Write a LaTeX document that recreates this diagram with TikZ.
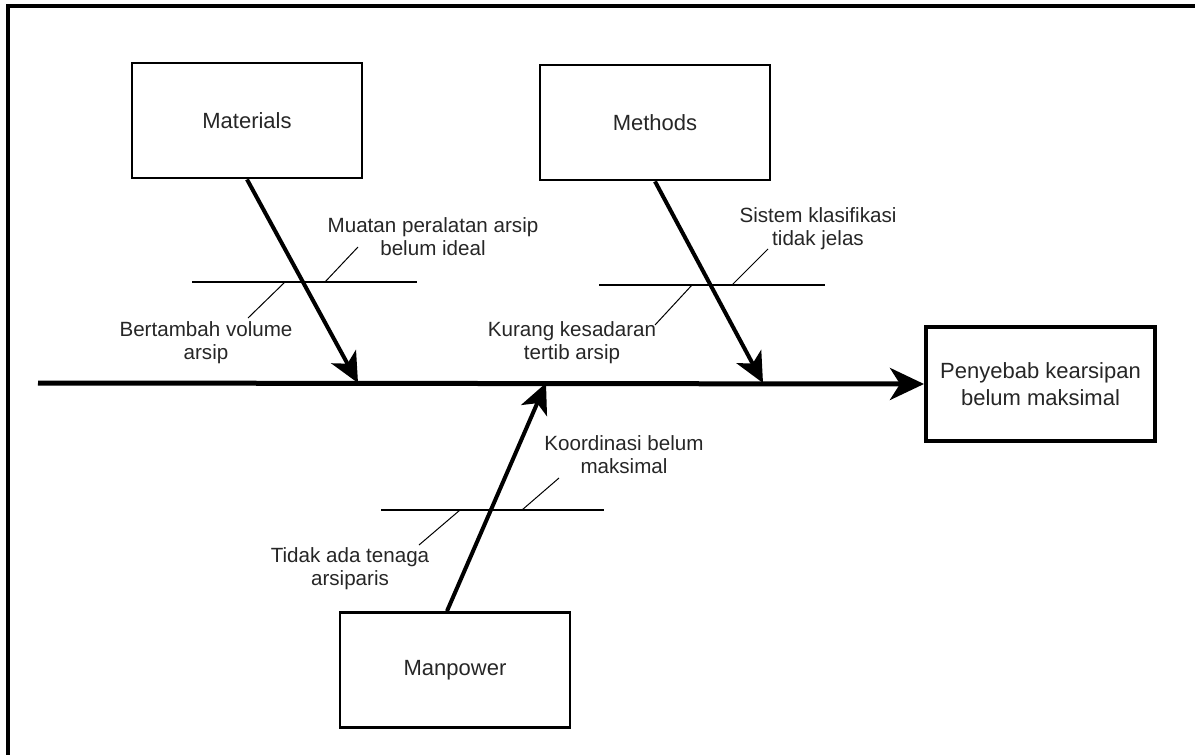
\documentclass[tikz,border=0pt]{standalone}
\usepackage{fontspec}
\setmainfont{Liberation Sans}
\usetikzlibrary{arrows.meta}

\begin{document}
\begin{tikzpicture}[x=0.5pt,y=0.5pt,yscale=-1,xscale=1,
    catbox/.style={draw, line width=1.4pt, minimum width=115pt, minimum height=57.5pt, font=\fontsize{11}{13}\selectfont, text=black!85},
    effbox/.style={draw, line width=2pt, minimum width=114.5pt, minimum height=57pt, align=center, font=\fontsize{11}{13.5}\selectfont, text=black!85},
    cause/.style={align=center, font=\fontsize{10.3}{11.5}\selectfont, text=black!85, inner sep=0pt},
    bone/.style={line width=2pt, -{Stealth[length=15pt,width=14pt,inset=4pt]}},
    rib/.style={line width=1.1pt},
    leader/.style={line width=0.5pt}]
        \useasboundingbox (0,0) rectangle (1195,755);

        %Frame
        \draw [line width=1.6pt] (8,755) -- (8,6) -- (1195,6) ;

        % Category boxes
        \node [catbox] (materials) at (247,120.5) {Materials};
        \node [catbox] (methods) at (655,122.5) {Methods};
        \node [catbox] (manpower) at (455,670) {Manpower};
        % Effect box
        \node [effbox] (effect) at (1040.5,384) {Penyebab kearsipan\\belum maksimal};

        %Spine
        \coordinate (tail) at (38,383);
        \draw [line width=2.5pt, -{Stealth[length=17pt,width=16pt,inset=5pt]}] (tail) -- (effect.west) ;

        %Bones
        \coordinate (mattip) at (358,383);
        \coordinate (mettip) at (763,383);
        \coordinate (mantip) at (546,383);
        \draw [bone] (materials.south) -- (mattip) ;
        \draw [bone] (methods.south) -- (mettip) ;
        \draw [bone] ([xshift=-4pt]manpower.north) -- (mantip) ;

        %Ribs
        \draw [rib] (192,282) -- (417,282) ;
        \draw [rib] (599,285) -- (825,285) ;
        \draw [rib] (381,510) -- (604,510) ;

        % Text Node
        \node [cause] (mat1) at (433,237) {Muatan peralatan arsip\\belum ideal};
        % Text Node
        \node [cause] (mat2) at (206,343) {Bertambah volume\\arsip};
        % Text Node
        \node [cause] (met1) at (818,229) {Sistem klasifikasi\\tidak jelas};
        % Text Node
        \node [cause] (met2) at (572,343) {Kurang kesadaran\\tertib arsip};
        % Text Node
        \node [cause] (man1) at (624,455) {Koordinasi belum\\maksimal};
        % Text Node
        \node [cause] (man2) at (350,569) {Tidak ada tenaga\\arsiparis};

        %Leader lines
        \draw [leader] (325,282) -- (358,247) ;
        \draw [leader] (285,282) -- (248,318) ;
        \draw [leader] (732,285) -- (768,249) ;
        \draw [leader] (692,285) -- (655,325) ;
        \draw [leader] (522,510) -- (559,478) ;
        \draw [leader] (460,510) -- (419,545) ;

\end{tikzpicture}
\end{document}
